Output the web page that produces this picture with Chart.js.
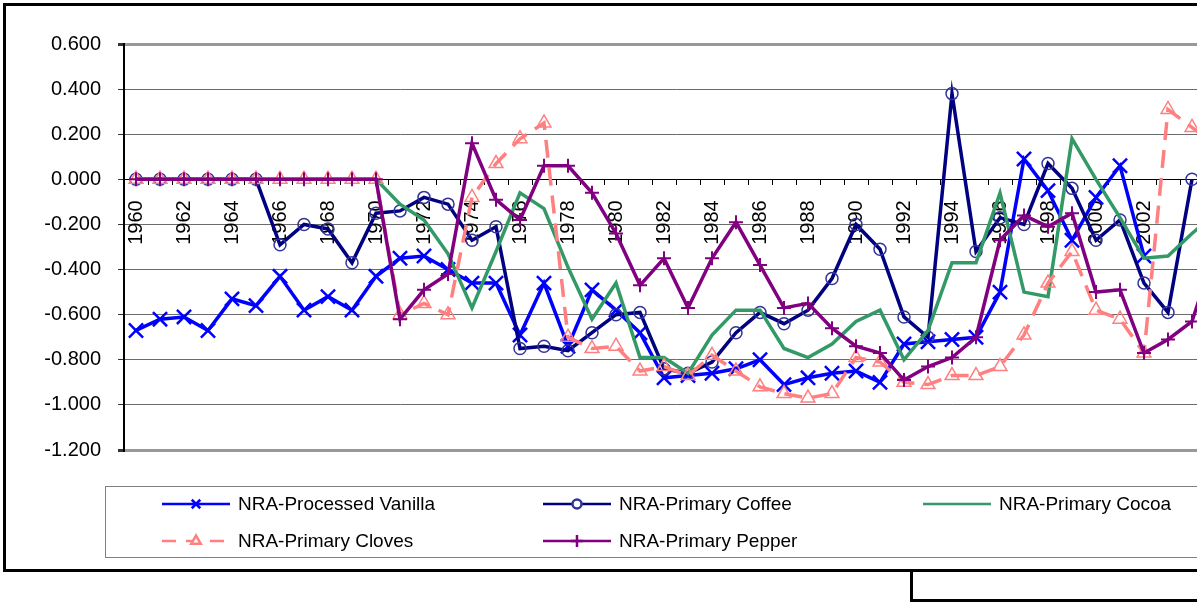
<!DOCTYPE html>
<html>
<head>
<meta charset="utf-8">
<script src="https://cdn.jsdelivr.net/npm/chart.js@4.4.1/dist/chart.umd.min.js"></script>
<style>
  html, body { margin: 0; padding: 0; background: #fff; overflow: hidden; width: 1197px; height: 603px; }
  #frame { position: absolute; left: 3px; top: 3px; width: 1300px; height: 563px; border: 3px solid #000; }
  #box { position: absolute; left: 910px; top: 572px; width: 400px; height: 27px; border: 3px solid #000; border-top: none; }
  #chart { position: absolute; left: 0; top: 0; }
</style>
</head>
<body>
<div id="frame"></div>
<div id="box"></div>
<canvas id="chart" width="1260" height="603"></canvas>
<script>
// Годы (категории оси X)
const years = [
  1960, 1961, 1962, 1963, 1964, 1965, 1966, 1967, 1968, 1969,
  1970, 1971, 1972, 1973, 1974, 1975, 1976, 1977, 1978, 1979,
  1980, 1981, 1982, 1983, 1984, 1985, 1986, 1987, 1988, 1989,
  1990, 1991, 1992, 1993, 1994, 1995, 1996, 1997, 1998, 1999,
  2000, 2001, 2002, 2003, 2004, 2005,
];

const vanilla = [
  -0.67, -0.62, -0.61, -0.67, -0.53, -0.56, -0.43, -0.58, -0.52, -0.58,
  -0.43, -0.35, -0.34, -0.40, -0.46, -0.46, -0.69, -0.46, -0.74, -0.49,
  -0.58, -0.68, -0.88, -0.87, -0.86, -0.84, -0.80, -0.91, -0.88, -0.86,
  -0.85, -0.90, -0.73, -0.72, -0.71, -0.70, -0.50, 0.09, -0.05, -0.27,
  -0.08, 0.06, -0.34, null, null, null,
];

const coffee = [
  0, 0, 0, 0, 0, 0, -0.29, -0.20, -0.22, -0.37,
  -0.15, -0.14, -0.08, -0.11, -0.27, -0.21, -0.75, -0.74, -0.76, -0.68,
  -0.60, -0.59, -0.84, -0.86, -0.81, -0.68, -0.59, -0.64, -0.58, -0.44,
  -0.20, -0.31, -0.61, -0.70, 0.38, -0.32, -0.17, -0.20, 0.07, -0.04,
  -0.27, -0.18, -0.46, -0.59, 0.0, null,
];

const cocoa = [
  0, 0, 0, 0, 0, 0, 0, 0, 0, 0,
  0, -0.11, -0.18, -0.33, -0.57, -0.32, -0.06, -0.13, -0.39, -0.62,
  -0.46, -0.79, -0.79, -0.86, -0.69, -0.58, -0.58, -0.75, -0.79, -0.73,
  -0.63, -0.58, -0.80, -0.67, -0.37, -0.37, -0.06, -0.50, -0.52, 0.18,
  0.0, -0.17, -0.35, -0.34, -0.24, -0.15,
];

const cloves = [
  0, 0, 0, 0, 0, 0, 0, 0, 0, 0,
  0, -0.60, -0.55, -0.60, -0.08, 0.07, 0.18, 0.25, -0.70, -0.75,
  -0.74, -0.85, -0.83, -0.87, -0.78, -0.85, -0.92, -0.95, -0.97, -0.95,
  -0.79, -0.81, -0.90, -0.91, -0.87, -0.87, -0.83, -0.69, -0.46, -0.32,
  -0.58, -0.62, -0.77, 0.31, 0.23, 0.15,
];

const pepper = [
  0, 0, 0, 0, 0, 0, 0, 0, 0, 0,
  0, -0.62, -0.49, -0.42, 0.16, -0.09, -0.18, 0.06, 0.06, -0.06,
  -0.24, -0.47, -0.35, -0.57, -0.35, -0.19, -0.38, -0.57, -0.55, -0.66,
  -0.74, -0.77, -0.89, -0.83, -0.79, -0.70, -0.27, -0.16, -0.21, -0.15,
  -0.50, -0.49, -0.77, -0.71, -0.63, -0.30,
];

const seriesNames = [
  "NRA-Processed Vanilla",
  "NRA-Primary Coffee",
  "NRA-Primary Cocoa",
  "NRA-Primary Cloves",
  "NRA-Primary Pepper",
];

const FONT = '"Liberation Sans", Arial, sans-serif';

// Легенда рисуется вручную: три колонки, как в Excel
const legendPlugin = {
  id: "excelLegend",
  afterDraw(chart) {
    const ctx = chart.ctx;
    ctx.save();
    ctx.strokeStyle = "#808080";
    ctx.lineWidth = 1;
    ctx.strokeRect(105.5, 486.5, 1300, 71);

    const cols = [162, 543, 923];
    const rows = [504, 541];
    const legendRadius = [6, 4.5, 0, 5.5, 6];

    chart.data.datasets.forEach((ds, i) => {
      const x = cols[i % 3];
      const y = rows[Math.floor(i / 3)];
      ctx.save();
      ctx.strokeStyle = ds.borderColor;
      ctx.lineWidth = 2.5;
      ctx.setLineDash(ds.borderDash ? [14, 10] : []);
      ctx.beginPath();
      ctx.moveTo(x, y);
      ctx.lineTo(x + 68, y);
      ctx.stroke();
      ctx.setLineDash([]);
      if (ds.pointRadius > 0) {
        ctx.strokeStyle = ds.pointBorderColor || ds.borderColor;
        ctx.fillStyle = "#fff";
        Chart.helpers.drawPoint(ctx, {
          pointStyle: ds.pointStyle,
          radius: legendRadius[i],
          rotation: 0,
          borderWidth: 1.5,
        }, x + 34, y);
      }
      ctx.restore();
      ctx.fillStyle = "#000";
      ctx.font = "19px " + FONT;
      ctx.textBaseline = "middle";
      ctx.textAlign = "left";
      ctx.fillText(ds.label, x + 76, y + 1);
    });
    ctx.restore();
  },
};

const ctx = document.getElementById("chart").getContext("2d");

new Chart(ctx, {
  type: "line",
  data: {
    labels: years,
    datasets: [
      {
        label: seriesNames[0],
        data: vanilla,
        borderColor: "#0000FF",
        borderWidth: 3.5,
        pointStyle: "crossRot",
        pointRadius: 10,
        pointBorderWidth: 2.5,
        pointBorderColor: "#0000FF",
        order: 4,
      },
      {
        label: seriesNames[1],
        data: coffee,
        borderColor: "#000080",
        borderWidth: 3.5,
        pointStyle: "circle",
        pointRadius: 6,
        pointBorderWidth: 1.5,
        pointBorderColor: "#333399",
        pointBackgroundColor: "rgba(0,0,0,0)",
        order: 3,
      },
      {
        label: seriesNames[2],
        data: cocoa,
        borderColor: "#339966",
        borderWidth: 3.5,
        pointRadius: 0,
        order: 2,
      },
      {
        label: seriesNames[3],
        data: cloves,
        borderColor: "#FF8080",
        borderWidth: 3.5,
        borderDash: [18, 10],
        pointStyle: "triangle",
        pointRadius: 8,
        pointBorderWidth: 1.5,
        pointBorderColor: "#FF8080",
        pointBackgroundColor: "rgba(0,0,0,0)",
        order: 1,
      },
      {
        label: seriesNames[4],
        data: pepper,
        borderColor: "#800080",
        borderWidth: 3.5,
        pointStyle: "cross",
        pointRadius: 7,
        pointBorderWidth: 2,
        pointBorderColor: "#800080",
        order: 0,
      },
    ],
  },
  options: {
    responsive: false,
    animation: false,
    devicePixelRatio: 1,
    layout: {
      padding: { left: 0, top: 44, right: 32, bottom: 153 },
    },
    plugins: {
      legend: { display: false },
      tooltip: { enabled: false },
    },
    scales: {
      x: {
        type: "category",
        position: { y: 0 },
        offset: true,
        grid: {
          offset: true,
          drawOnChartArea: false,
          drawTicks: true,
          tickLength: 5,
          tickColor: "#000",
        },
        border: { display: true, color: "#000", width: 1 },
        ticks: {
          autoSkip: false,
          minRotation: 90,
          maxRotation: 90,
          padding: 16,
          color: "#000",
          font: { size: 20, family: FONT },
          callback: function (value, index) {
            return index % 2 === 0 && index <= 42 ? this.getLabelForValue(value) : "";
          },
        },
      },
      y: {
        min: -1.2,
        max: 0.6,
        ticks: {
          stepSize: 0.2,
          padding: 17,
          color: "#000",
          font: { size: 20, family: FONT },
          callback: (v) => v.toFixed(3),
        },
        grid: {
          color: (c) => (c.tick && (c.tick.value > 0.59 || c.tick.value < -1.19) ? "#999999" : "#6b6b6b"),
          lineWidth: (c) => (c.tick && (c.tick.value > 0.59 || c.tick.value < -1.19) ? 3 : 1),
          tickLength: 6,
          tickColor: "#333",
        },
        border: { color: "#000", width: 2 },
        afterFit: (scale) => {
          scale.width = 124;
        },
      },
    },
  },
  plugins: [legendPlugin],
});
</script>
</body>
</html>
